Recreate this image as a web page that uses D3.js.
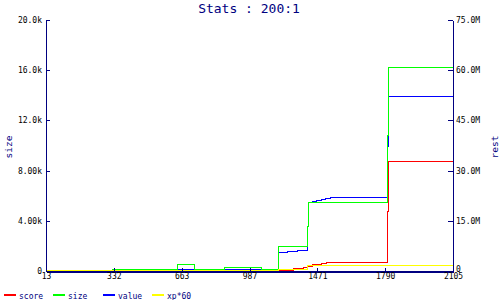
<!DOCTYPE html>
<html><head><meta charset="utf-8">
<script src="https://cdn.jsdelivr.net/npm/d3@7"></script>
<style>
html,body{margin:0;padding:0;background:#fff;}
svg{display:block;}
</style></head>
<body>
<script>
// ---- data ----
const title = "Stats : 200:1";
const xTicks = [13, 332, 663, 987, 1471, 1790, 2105];
const sizeTicks = [0, 4000, 8000, 12000, 16000, 20000];
const restTicks = [0, 15e6, 30e6, 45e6, 60e6, 75e6];

const seriesNames = ["score", "size", "value", "xp*60"];
const seriesColors = ["#ff0000", "#00ff00", "#0000ff", "#ffff00"];

const scoreX = [13, 1192, 1294, 1369, 1399, 1436, 1486, 1510, 1527, 1800, 1805, 2105];
const scoreV = [0, 0.3e6, 0.9e6, 1.2e6, 1.5e6, 2.0e6, 2.3e6, 2.55e6, 2.75e6, 17.8e6, 33.0e6, 33.0e6];

const sizeX = [13, 323, 642, 722, 867, 1067, 1192, 1399, 1406, 1800, 1805, 2105];
const sizeV = [0, 160, 560, 160, 320, 160, 1990, 3590, 5500, 10840, 16250, 16250];

const valueX = [13, 323, 1192, 1252, 1328, 1399, 1406, 1433, 1465, 1488, 1509, 1531, 1800, 1805, 2105];
const valueV = [0.3e6, 0.6e6, 5.68e6, 5.98e6, 6.27e6, 13.45e6, 20.62e6, 20.92e6, 21.21e6, 21.51e6, 21.81e6, 22.11e6, 37.35e6, 52.29e6, 52.29e6];

const xpX = [13, 1192, 1399, 2105];
const xpV = [0.3e6, 0.6e6, 1.8e6, 1.8e6];

// ---- layout ----
const W = 500, H = 300;
const mLeft = 46, mRight = 453, mTop = 20, mBottom = 271;
const navy = "#000080";
const mono = "'DejaVu Sans Mono', monospace";

const svg = d3.select("body").append("svg").attr("width", W).attr("height", H);

const x = d3.scaleLinear()
  .domain(xTicks)
  .range(xTicks.map((d, i) => mLeft + i * (mRight - mLeft) / (xTicks.length - 1)));
const yL = d3.scaleLinear().domain([0, 20000]).range([mBottom, mTop]);
const yR = d3.scaleLinear().domain([0, 75e6]).range([mBottom, mTop]);

const lines = svg.append("g").attr("transform", "translate(0.5,0.5)");
const mk = (xs, vs, ys) => xs.map((d, i) => [x(d), ys(vs[i])]);
const lineGen = d3.line().curve(d3.curveStepAfter);

const series = [
  {pts: mk(scoreX, scoreV, yR), color: seriesColors[0]},
  {pts: mk(valueX, valueV, yR), color: seriesColors[2]},
  {pts: mk(sizeX, sizeV, yL), color: seriesColors[1]},
  {pts: mk(xpX, xpV, yR), color: seriesColors[3]},
];
series.forEach(s => {
  lines.append("path").attr("d", lineGen(s.pts))
    .attr("fill", "none").attr("stroke", s.color).attr("stroke-width", 1)
    .attr("shape-rendering", "crispEdges");
});

const fmt = v => v === 0 ? "0" : d3.format(".3s")(v);

function styleAxis(g, domainWidth) {
  g.attr("font-family", mono).attr("font-size", 8);
  g.select(".domain").attr("stroke", navy).attr("stroke-width", domainWidth).attr("shape-rendering", "crispEdges");
  g.selectAll(".tick line").attr("stroke", navy).attr("shape-rendering", "crispEdges");
  g.selectAll(".tick text").attr("fill", "#000");
}

const gL = svg.append("g").attr("transform", `translate(${mLeft},0)`)
  .call(d3.axisLeft(yL).tickValues(sizeTicks).tickFormat(fmt).tickSize(-4).tickSizeOuter(0).tickPadding(4));
styleAxis(gL, 1);
gL.selectAll(".tick text").attr("dy", "0.3em");

const gR = svg.append("g").attr("transform", `translate(${mRight},0)`)
  .call(d3.axisRight(yR).tickValues(restTicks).tickFormat(fmt).tickSize(-5).tickSizeOuter(0).tickPadding(3));
styleAxis(gR, 1);
gR.selectAll(".tick text").attr("dy", d => d === 0 ? "0.1em" : "0.3em");

const gB = svg.append("g").attr("transform", `translate(0,${mBottom + 0.5})`)
  .call(d3.axisBottom(x).tickValues(xTicks).tickFormat(d3.format("d")).tickSize(-4).tickSizeOuter(0).tickPadding(2));
styleAxis(gB, 2);

// title
svg.append("text").attr("x", 249).attr("y", 13).attr("text-anchor", "middle")
  .attr("font-family", mono).attr("font-size", 13).attr("fill", navy).text(title);

// axis titles
svg.append("text").attr("transform", "translate(12,147) rotate(-90)").attr("text-anchor", "middle")
  .attr("font-family", mono).attr("font-size", 9.5).attr("fill", navy).text("size");
svg.append("text").attr("transform", "translate(498,147) rotate(-90)").attr("text-anchor", "middle")
  .attr("font-family", mono).attr("font-size", 9.5).attr("fill", navy).text("rest");

// legend
const leg = svg.append("g");
seriesNames.forEach((n, i) => {
  const lx = 4 + i * 49.3;
  leg.append("rect").attr("x", Math.round(lx)).attr("y", 294).attr("width", 12).attr("height", 2)
    .attr("fill", seriesColors[i]);
  leg.append("text").attr("x", Math.round(lx) + 15).attr("y", 298.5)
    .attr("font-family", mono).attr("font-size", 8).attr("fill", navy).text(n);
});
</script>
</body></html>
